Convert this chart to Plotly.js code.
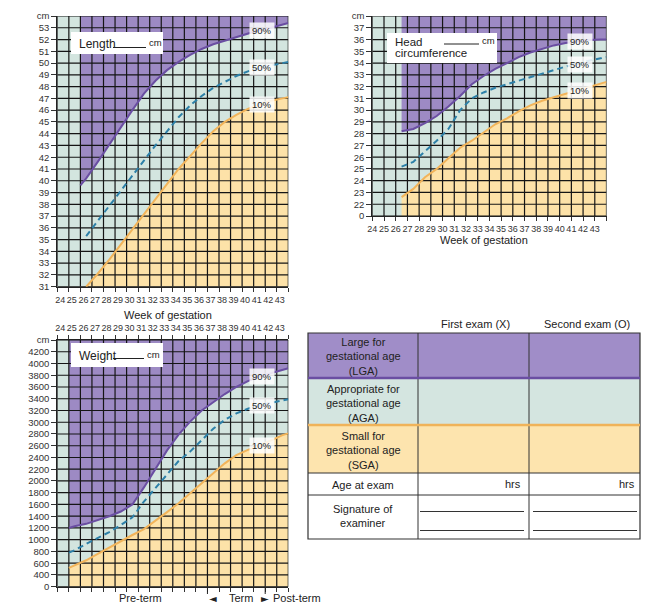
<!DOCTYPE html>
<html><head><meta charset="utf-8">
<script src="https://cdn.plot.ly/plotly-3.0.1.min.js"></script>
<style>html,body{margin:0;padding:0;background:#fff}#chart{width:656px;height:606px}</style>
</head><body><div id="chart"></div>
<script>
// ---------------- data ----------------
const weekLabels = ['24','25','26','27','28','29','30','31','32','33','34','35','36','37','38','39','40','41','42','43'];

const lengthWeeks = [25.5,26,27,28,29,30,31,32,33,34,35,36,37,38,39,40,41,42,43,43.5];
const length90 = [39.6,40.2,41.6,43.1,44.6,46.0,47.4,48.5,49.4,50.1,50.7,51.2,51.6,51.9,52.2,52.5,52.8,53.0,53.3,53.4];
const length50 = [null,35.3,36.6,37.9,39.2,40.5,41.8,43.0,44.2,45.4,46.4,47.2,47.9,48.4,48.9,49.3,49.6,49.8,50.0,50.1];
const length10 = [null,31.0,32.1,33.3,34.6,35.9,37.2,38.5,39.8,41.0,42.1,43.2,44.2,45.0,45.6,46.1,46.5,46.8,47.0,47.1];
const lengthTickVals = [31,32,33,34,35,36,37,38,39,40,41,42,43,44,45,46,47,48,49,50,51,52,53,54];
const lengthTickText = ['31','32','33','34','35','36','37','38','39','40','41','42','43','44','45','46','47','48','49','50','51','52','53','cm'];

const headWeeks = [26,27,28,29,30,31,32,33,34,35,36,37,38,39,40,41,42,43,43.5];
const head90 = [28.2,28.4,28.9,29.5,30.3,31.2,32.2,32.9,33.5,34.0,34.5,34.9,35.2,35.5,35.7,35.85,35.95,36.0,36.0];
const head50 = [25.2,25.6,26.5,27.4,28.4,30.0,31.0,31.5,31.9,32.2,32.5,32.8,33.1,33.4,33.7,33.9,34.2,34.4,34.5];
const head10 = [22.6,23.3,24.3,25.0,25.9,26.8,27.4,28.1,28.8,29.3,29.9,30.4,30.8,31.1,31.4,31.7,32.0,32.3,32.4];
const headTickVals = [21,22,23,24,25,26,27,28,29,30,31,32,33,34,35,36,37,38];
const headTickText = ['0','22','23','24','25','26','27','28','29','30','31','32','33','34','35','36','37','cm'];

const weightWeeks = [24.5,25,26,27,28,29,30,31,32,33,34,35,36,37,38,39,40,41,42,43,43.5];
const weight90 = [1200,1230,1270,1330,1400,1480,1600,1890,2200,2520,2790,3010,3200,3340,3480,3600,3700,3780,3840,3900,3920];
const weight50 = [780,820,930,1030,1130,1250,1380,1650,1880,2110,2340,2500,2690,2890,3040,3150,3230,3290,3330,3370,3390];
const weight10 = [520,560,650,760,870,980,1080,1180,1320,1470,1620,1790,1960,2130,2300,2440,2530,2600,2690,2780,2810];
const weightTickVals = [200,400,600,800,1000,1200,1400,1600,1800,2000,2200,2400,2600,2800,3000,3200,3400,3600,3800,4000,4200,4400];
const weightTickText = ['0','400','600','800','1000','1200','1400','1600','1800','2000','2200','2400','2600','2800','3000','3200','3400','3600','3800','4000','4200','cm'];

const termBounds = [36.5, 41.5];
const percentLabels = ['90%','50%','10%'];

// ---------------- styles ----------------
const W = 656, H = 606;
const C = {purple:'#9d8ac4', teal:'#d3e5df', yellow:'#fde2a8', line90:'#6a4ea2', line50:'#2d80a8', line10:'#f2b45a', grid:'#151515', text:'#222'};
const FONT = 'Liberation Sans, Arial, sans-serif';
const px = v => v / W;
const py = v => 1 - v / H;

const gridX = weekLabels.map(w => +w - 0.5).concat([+weekLabels[weekLabels.length - 1] + 0.5]);
const xMin = gridX[0], xMax = gridX[gridX.length - 1];

const traces = [];
const annotations = [];

function addChart(xa, ya, weeks, p90, p50, p10, tickVals) {
  const yMin = tickVals[0], yMax = tickVals[tickVals.length - 1];
  const n = weeks.length;
  traces.push({type:'scatter', mode:'lines', xaxis:xa, yaxis:ya, hoverinfo:'skip',
    x:[weeks[0]].concat(weeks, [weeks[n-1]]), y:[yMax].concat(p90, [yMax]),
    fill:'toself', fillcolor:C.purple, line:{width:0}});
  const xs = [], ys = [];
  weeks.forEach((w, i) => { if (p10[i] !== null) { xs.push(w); ys.push(p10[i]); } });
  traces.push({type:'scatter', mode:'lines', xaxis:xa, yaxis:ya, hoverinfo:'skip',
    x:[xs[0]].concat(xs, [xs[xs.length-1]]), y:[yMin].concat(ys, [yMin]),
    fill:'toself', fillcolor:C.yellow, line:{width:0}});
  const gx = [], gy = [];
  gridX.forEach(x => { gx.push(x, x, null); gy.push(yMin, yMax, null); });
  tickVals.forEach(y => { gx.push(xMin, xMax, null); gy.push(y, y, null); });
  traces.push({type:'scatter', mode:'lines', xaxis:xa, yaxis:ya, hoverinfo:'skip',
    x:gx, y:gy, line:{color:C.grid, width:1.2}});
  traces.push({type:'scatter', mode:'lines', xaxis:xa, yaxis:ya, x:weeks, y:p90, line:{color:C.line90, width:2}});
  traces.push({type:'scatter', mode:'lines', xaxis:xa, yaxis:ya, x:weeks, y:p50, connectgaps:false, line:{color:C.line50, width:2, dash:'6px,4px'}});
  traces.push({type:'scatter', mode:'lines', xaxis:xa, yaxis:ya, x:weeks, y:p10, line:{color:C.line10, width:2}});
  const k = weeks.indexOf(41);
  [p90, p50, p10].forEach((s, j) => {
    annotations.push({xref:xa, yref:ya, x:41, y:s[k], xshift:3, text:percentLabels[j], showarrow:false,
      font:{family:FONT, size:9.5, color:C.text}, bgcolor:'rgba(255,255,255,0.85)', borderpad:2});
  });
}

addChart('x', 'y', lengthWeeks, length90, length50, length10, lengthTickVals);
addChart('x2', 'y2', headWeeks, head90, head50, head10, headTickVals);
addChart('x3', 'y3', weightWeeks, weight90, weight50, weight10, weightTickVals);

const xTickText = weekLabels.concat(['']);
function xAxis(domL, domR, anchor, extra) {
  return Object.assign({domain:[px(domL), px(domR)], anchor:anchor, range:[xMin, xMax],
    tickmode:'array', tickvals:gridX, ticktext:xTickText, ticks:'outside', ticklen:4, tickcolor:'#333',
    tickangle:0, showline:true, linecolor:'#222', linewidth:1, showgrid:false, zeroline:false,
    tickfont:{family:FONT, size:9, color:'#333'}, fixedrange:true}, extra || {});
}
function yAxis(top, bottom, anchor, vals, text) {
  return {domain:[py(bottom), py(top)], anchor:anchor, range:[vals[0], vals[vals.length-1]],
    tickmode:'array', tickvals:vals, ticktext:text, ticks:'outside', ticklen:5, tickcolor:'#333',
    showline:true, linecolor:'#222', linewidth:1, showgrid:false, zeroline:false,
    tickfont:{family:FONT, size:9.5, color:'#333'}, fixedrange:true};
}

function txt(x, y, t, opts) {
  annotations.push(Object.assign({xref:'paper', yref:'paper', x:px(x), y:py(y), text:t, showarrow:false,
    xanchor:'center', yanchor:'middle', font:{family:FONT, size:10.5, color:C.text}}, opts || {}));
}
const shapes = [];
function rect(x0, y0, x1, y1, fill, lineColor, lw) {
  shapes.push({type:'rect', xref:'paper', yref:'paper', x0:px(x0), x1:px(x1), y0:py(y1), y1:py(y0),
    fillcolor:fill, line:{color:lineColor || 'rgba(0,0,0,0)', width:lw || 0}});
}
function hline(x0, x1, y, color, lw) {
  shapes.push({type:'line', xref:'paper', yref:'paper', x0:px(x0), x1:px(x1), y0:py(y), y1:py(y), line:{color:color, width:lw}});
}
function vline(x, y0, y1, color, lw) {
  shapes.push({type:'line', xref:'paper', yref:'paper', x0:px(x), x1:px(x), y0:py(y0), y1:py(y1), line:{color:color, width:lw}});
}

rect(71, 32, 163, 54, '#ffffff');
txt(77, 44, 'Length', {xanchor:'left', font:{family:FONT, size:12, color:C.text}});
hline(113, 146, 47.5, '#222', 1);
txt(146.5, 42.5, 'cm', {xanchor:'left', font:{family:FONT, size:9.5, color:C.text}});
txt(168, 315, 'Week of gestation', {font:{family:FONT, size:11, color:C.text}});

rect(387, 33, 497, 63, '#ffffff');
txt(393, 41.5, 'Head', {xanchor:'left', font:{family:FONT, size:11.5, color:C.text}});
txt(393, 53, 'circumference', {xanchor:'left', font:{family:FONT, size:11.5, color:C.text}});
hline(444, 479, 44, '#222', 1);
txt(479.5, 40, 'cm', {xanchor:'left', font:{family:FONT, size:9.5, color:C.text}});
txt(484, 239.5, 'Week of gestation', {font:{family:FONT, size:11, color:C.text}});

rect(71, 343, 163, 367, '#ffffff');
txt(77, 355.5, 'Weight', {xanchor:'left', font:{family:FONT, size:12, color:C.text}});
hline(113, 144, 358.5, '#222', 1);
txt(145, 354, 'cm', {xanchor:'left', font:{family:FONT, size:9.5, color:C.text}});

txt(140, 598, 'Pre-term', {font:{family:FONT, size:11, color:C.text}});
txt(213, 598, '\u25C4', {font:{family:'DejaVu Sans', size:10, color:C.text}});
txt(241, 598, 'Term', {font:{family:FONT, size:11, color:C.text}});
txt(265, 598, '\u25BA', {font:{family:'DejaVu Sans', size:10, color:C.text}});
txt(271, 598, 'Post-term', {xanchor:'left', font:{family:FONT, size:11, color:C.text}});
termBounds.forEach(b => {
  shapes.push({type:'line', xref:'x3', yref:'paper', x0:b, x1:b, y0:py(586.7), y1:py(594), line:{color:'#222', width:1}});
});

const TL = 308, TC1 = 418, TC2 = 529, TR = 640;
const R0 = 333, R1 = 378, R2 = 425, R3 = 473, R4 = 495, R5 = 539;
rect(TL, R0, TR, R1, '#a08dc8');
rect(TL, R1, TR, R2, '#d4e5e0');
rect(TL, R2, TR, R3, '#fde4ae');
rect(TL, R0, TR, R5, 'rgba(0,0,0,0)', '#333', 1.2);
vline(TC1, R0, R5, '#333', 1);
vline(TC2, R0, R5, '#333', 1);
hline(TL, TR, R1, '#6a4ea2', 2.5);
hline(TL, TR, R2, '#f0b35a', 2.5);
hline(TL, TR, R3, '#333', 1);
hline(TL, TR, R4, '#333', 1);
hline(420, 524, 511.5, '#333', 1);
hline(420, 524, 530.5, '#333', 1);
hline(533, 637, 511.5, '#333', 1);
hline(533, 637, 530.5, '#333', 1);

const TF = {family:FONT, size:11, color:C.text};
txt(475, 324, 'First exam (X)', {font:TF});
txt(587, 324, 'Second exam (O)', {font:TF});
txt(363, 356.5, 'Large for<br>gestational age<br>(LGA)', {font:TF});
txt(363, 403.5, 'Appropriate for<br>gestational age<br>(AGA)', {font:TF});
txt(363, 450, 'Small for<br>gestational age<br>(SGA)', {font:TF});
txt(363, 484.5, 'Age at exam', {font:TF});
txt(523, 484, 'hrs', {xanchor:'right', font:TF});
txt(637, 484, 'hrs', {xanchor:'right', font:TF});
txt(363, 516, 'Signature of<br>examiner', {font:TF});

const layout = {
  width:W, height:H, margin:{l:0, r:0, t:0, b:0},
  paper_bgcolor:'#ffffff', plot_bgcolor:C.teal, showlegend:false,
  font:{family:FONT, color:C.text},
  xaxis: xAxis(57.3, 288.3, 'y', {ticklabelshift:3}),
  yaxis: yAxis(16, 286.7, 'x', lengthTickVals, lengthTickText),
  xaxis2: xAxis(372.3, 606.5, 'y2', {ticklabelshift:5.8}),
  yaxis2: yAxis(16, 216, 'x2', headTickVals, headTickText),
  xaxis3: xAxis(57.3, 288.3, 'y3', {side:'top', mirror:'ticks', ticklabelshift:3}),
  yaxis3: yAxis(340, 586.7, 'x3', weightTickVals, weightTickText),
  shapes: shapes,
  annotations: annotations
};

Plotly.newPlot('chart', traces, layout, {staticPlot:true, displayModeBar:false});
</script>
</body></html>
